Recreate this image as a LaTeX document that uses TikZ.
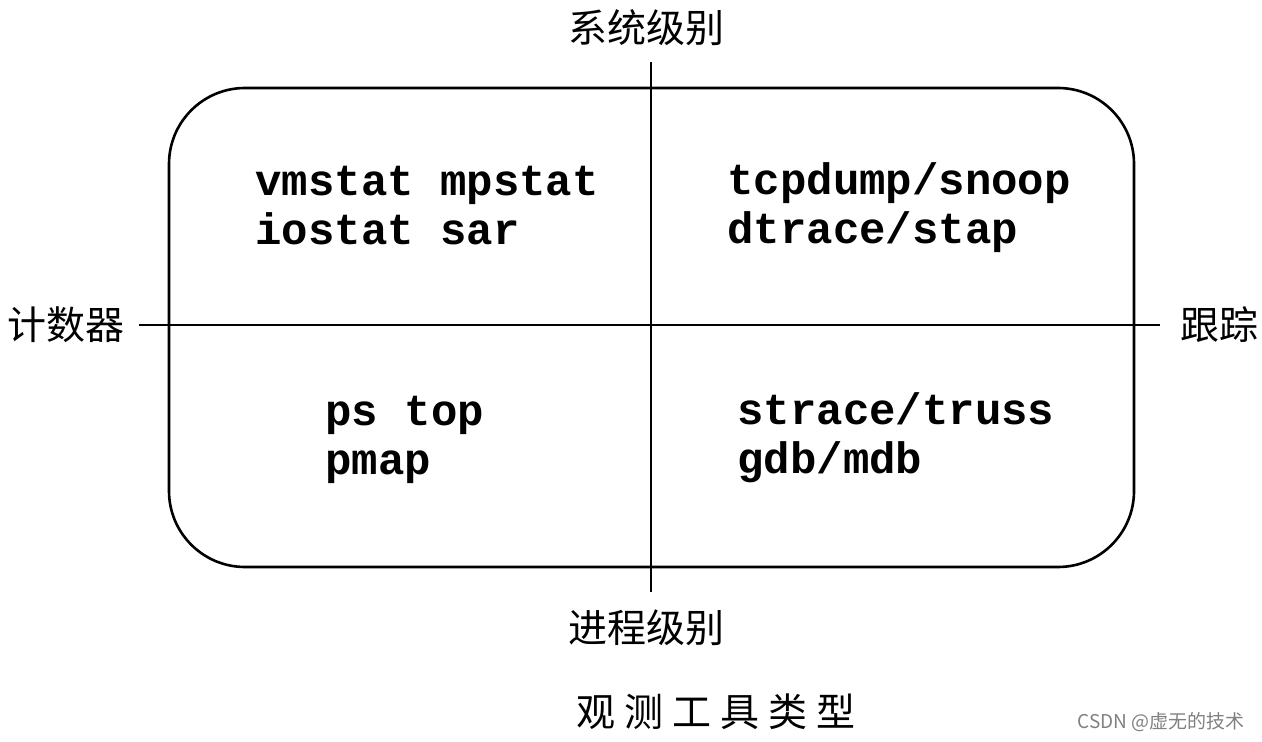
\documentclass[tikz,border=0pt]{standalone}
\usepackage{fontspec}
\setmonofont{Liberation Mono}
\newfontfamily\cjk{Noto Sans CJK SC}
\usepackage{tikz}

\tikzset{
  tool/.style={anchor=west,align=left,inner sep=0pt,font=\fontsize{22}{24.5}\selectfont\ttfamily\bfseries},
  axislabel/.style={inner sep=0pt,font=\fontsize{19.5}{22}\selectfont\cjk},
  axis/.style={line width=1.3pt}
}

\begin{document}
\begin{tikzpicture}[x=0.5pt,y=-0.5pt]
\useasboundingbox (0,0) rectangle (1262,742);
% frame
\draw[line width=1.3pt,rounded corners=38pt] (169,88) rectangle (1134,567);
% axis labels
\node[axislabel] (sys) at (646,28) {系统级别};
\node[axislabel] (proc) at (646,628) {进程级别};
\node[axislabel] (cnt) at (66,325) {计数器};
\node[axislabel] (trk) at (1219,325) {跟踪};
\draw[axis] ([yshift=-8pt]sys.south -| 651,0) -- ([yshift=9pt]proc.north -| 651,0);
\draw[axis] ([xshift=7pt]cnt.east |- 0,325) -- ([xshift=-10pt]trk.west |- 0,325);
% quadrants
\node[tool] (q1) at (255,206) {vmstat mpstat\\iostat sar};
\node[tool] (q2) at (727,208) {tcpdump/snoop\\dtrace/stap};
\node[tool] (q3) at (325,440) {ps top\\pmap};
\node[tool] (q4) at (737,438) {strace/truss\\gdb/mdb};
% caption
\node[axislabel,font=\fontsize{19.5}{22}\selectfont\cjk\addfontfeature{LetterSpace=23}] (cap) at (716,712) {观测工具类型};
\node[inner sep=0pt,text=black!50,font=\fontsize{9.5}{11}\selectfont\cjk] (mark) at (1161,722) {CSDN @虚无的技术};
\end{tikzpicture}
\end{document}
